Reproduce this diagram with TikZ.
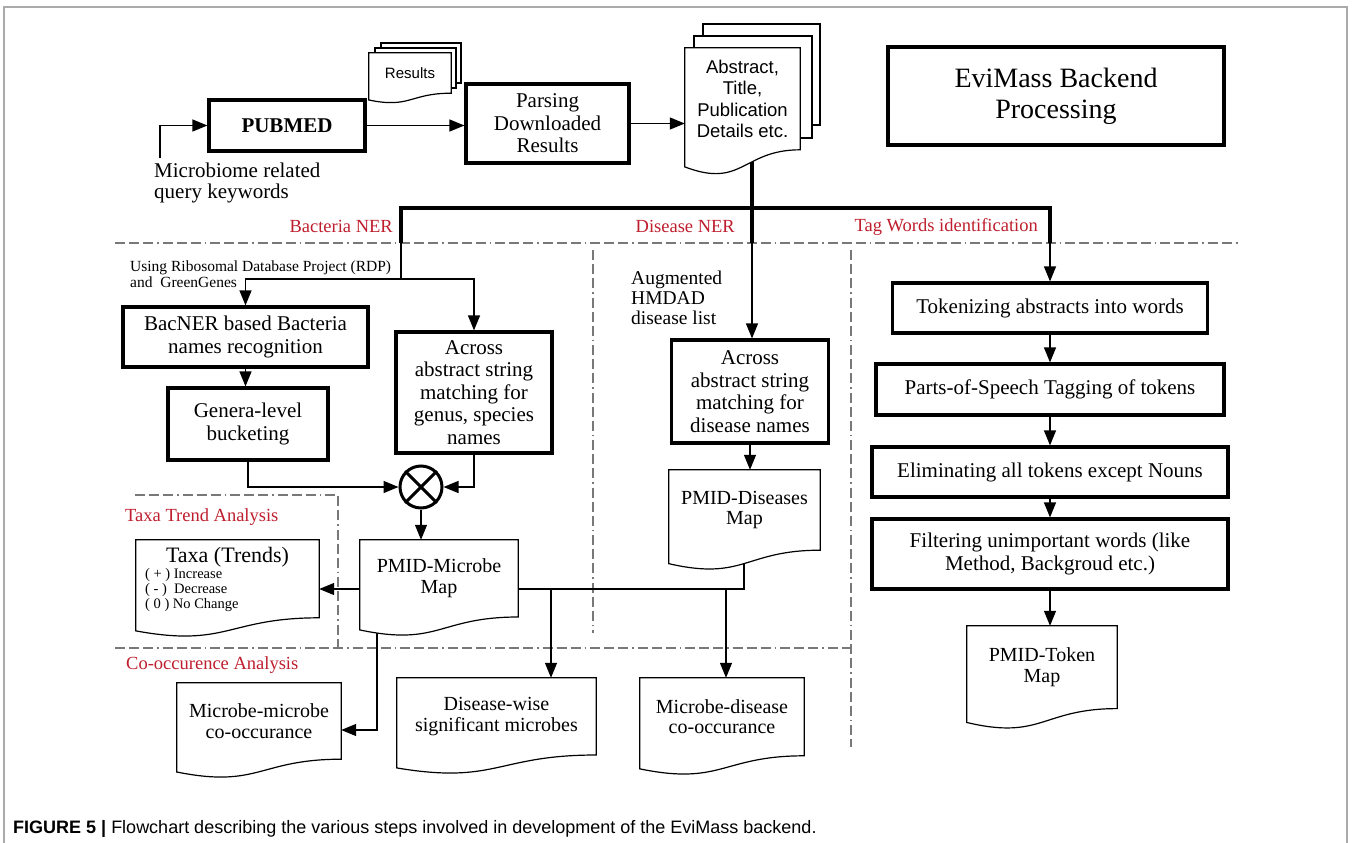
\documentclass[tikz,border=0pt]{standalone}
\usepackage{fontspec}
\setmainfont{Liberation Serif}
\setsansfont{Liberation Sans}
\usetikzlibrary{arrows.meta,calc}
\pgfdeclarelayer{connectors}
\pgfdeclarelayer{docs}
\pgfsetlayers{connectors,docs,main}
\definecolor{nerred}{RGB}{190,30,45}
\definecolor{sepgray}{RGB}{120,120,120}
\definecolor{framegray}{RGB}{170,170,170}
\newcommand{\fs}[2]{\fontsize{#1}{#2}\selectfont}
\newcommand{\docoutline}[1]{%
  \begin{pgfonlayer}{docs}
  \draw[docline] (#1.north west) -- (#1.north east) -- (#1.south east)
    .. controls (#1.south) and ($(#1.north)!1.384!(#1.south)$) ..
    ($(#1.north west)!1.1675!(#1.south west)$) -- cycle;
  \end{pgfonlayer}}
\tikzset{
  thickbox/.style={draw, line width=3.2pt, inner sep=0pt, align=center, font=\fs{21}{22.5}},
  docnode/.style={inner sep=0pt, align=center, font=\fs{20}{20.5}},
  docline/.style={line width=1.2pt, fill=white},
  conn/.style={line width=1.3pt},
  arr/.style={conn, -{Triangle[length=15pt,width=12pt]}},
  bus/.style={line width=4pt},
  sep/.style={sepgray, line width=1.3pt, dash pattern=on 10pt off 4pt on 10pt off 4pt on 10pt off 4pt on 1.5pt off 4pt},
  redlabel/.style={text=nerred, font=\fs{18.5}{20}, inner sep=0pt},
}
\begin{document}
\begin{tikzpicture}[x=1pt,y=-1pt]
\useasboundingbox (0,0) rectangle (1352,843);
% frame
\draw[framegray, line width=1.2pt] (4,843) -- (4,7) -- (1347,7) -- (1347,843);

% ---------- top row ----------
\node[thickbox, minimum width=156pt, minimum height=51pt, font=\bfseries\fs{21}{22.5}] (pubmed) at (287,125.5) {PUBMED};
\node[thickbox, minimum width=163pt, minimum height=79pt] (parse) at (547.5,123.5) {Parsing\\Downloaded\\Results};
\node[thickbox, minimum width=336pt, minimum height=98pt, font=\fs{28}{31}] (evimass) at (1056,96) {EviMass Backend\\Processing};

% Results stack
\begin{pgfonlayer}{docs}
\draw[docline] (381,43) rectangle (461,83);
\draw[docline] (375,48) rectangle (456,88);
\end{pgfonlayer}
\node[docnode, minimum width=82pt, minimum height=40pt, font=\sffamily\fs{15}{17}] (results) at (410,73) {Results};
\docoutline{results}

% Abstract stack
\begin{pgfonlayer}{docs}
\draw[docline] (703,24) rectangle (820,125);
\draw[docline] (694,36) rectangle (812,138);
\end{pgfonlayer}
\node[docnode, minimum width=115pt, minimum height=101.6pt, font=\sffamily\fs{18.5}{21.5}] (abs) at (742.5,98.8) {Abstract,\\Title,\\Publication\\Details etc.};
\docoutline{abs}

\node[align=left, anchor=west, inner sep=0pt, font=\fs{21}{21}] (query) at (154,183) {Microbiome related\\query keywords};
\coordinate (qin) at (160,158);

% ---------- labels ----------
\node[redlabel, anchor=east] (lbac) at (393,226) {Bacteria NER};
\node[redlabel, anchor=east] (ldis) at (735,226) {Disease NER};
\node[redlabel, anchor=east] (ltag) at (1038,227) {Tag Words identification};
\node[redlabel, anchor=west] (ltaxa) at (125,517) {Taxa Trend Analysis};
\node[redlabel, anchor=west] (lco) at (126,665) {Co-occurence Analysis};

% ---------- bacteria column ----------
\node[align=left, anchor=west, inner sep=0pt, font=\fs{15.5}{16}] (rdp) at (130,274) {Using Ribosomal Database Project (RDP)\\and\ \ GreenGenes};
\node[thickbox, minimum width=245pt, minimum height=60pt] (bacner) at (245.5,337) {BacNER based Bacteria\\names recognition};
\node[thickbox, minimum width=160pt, minimum height=72pt] (genera) at (248,424) {Genera-level\\bucketing};
\node[thickbox, minimum width=156pt, minimum height=121pt] (acrossg) at (474,392.5) {Across\\abstract string\\matching for\\genus, species\\names};
\node[circle, draw, line width=3pt, minimum size=42pt, inner sep=0pt] (mult) at (421,487) {};
\draw[line width=3pt] (mult.north west) -- (mult.south east);
\draw[line width=3pt] (mult.north east) -- (mult.south west);

\node[docnode, minimum width=158pt, minimum height=76.8pt] (pmidm) at (439,578.4) {PMID-Microbe\\Map};
\docoutline{pmidm}
\node[docnode, minimum width=183pt, minimum height=77.6pt] (taxa) at (227.5,578.8) {};
\docoutline{taxa}
\node[inner sep=0pt, font=\fs{22}{22}] (taxat) at (227.5,557) {Taxa (Trends)};
\node[align=left, anchor=west, inner sep=0pt, font=\fs{14.5}{15}] (taxal) at (145,590) {( + ) Increase\\( - )\ \ Decrease\\( 0 ) No Change};

% ---------- disease column ----------
\node[align=left, anchor=west, inner sep=0pt, font=\fs{19.5}{20}] (hmdad) at (631,298) {Augmented\\HMDAD\\disease list};
\node[thickbox, minimum width=157pt, minimum height=103pt] (acrossd) at (750,391.5) {Across\\abstract string\\matching for\\disease names};
\node[docnode, minimum width=151pt, minimum height=80pt] (pmidd) at (744.5,510) {PMID-Diseases\\Map};
\docoutline{pmidd}

% ---------- tag words column ----------
\node[thickbox, minimum width=315pt, minimum height=50pt] (tok) at (1050,308) {Tokenizing abstracts into words};
\node[thickbox, minimum width=348pt, minimum height=51pt] (pos) at (1050,389.5) {Parts-of-Speech Tagging of tokens};
\node[thickbox, minimum width=356pt, minimum height=50pt] (elim) at (1050,472) {Eliminating all tokens except Nouns};
\node[thickbox, minimum width=356pt, minimum height=70pt] (filt) at (1050,554) {Filtering unimportant words (like\\Method, Backgroud etc.)};
\node[docnode, minimum width=150pt, minimum height=82.4pt] (ptok) at (1042,667.2) {PMID-Token\\Map};
\docoutline{ptok}

% ---------- co-occurrence ----------
\node[docnode, minimum width=164pt, minimum height=76pt] (mm) at (259,721) {Microbe-microbe\\co-occurance};
\docoutline{mm}
\node[docnode, minimum width=199pt, minimum height=76.8pt] (dw) at (496.5,716.4) {Disease-wise\\significant microbes};
\docoutline{dw}
\node[docnode, minimum width=164pt, minimum height=77.6pt] (md) at (722,716.8) {Microbe-disease\\co-occurance};
\docoutline{md}

% caption
\node[anchor=west, inner sep=0pt, font=\sffamily\fs{18}{20}] (cap) at (13,829) {\textbf{FIGURE 5 |} Flowchart describing the various steps involved in development of the EviMass backend.};

% ---------- connectors ----------
\begin{pgfonlayer}{connectors}
% separators
\draw[sep] (115,243) -- (1238,243);
\draw[sep] (593,250) -- (593,633);
\draw[sep] (851,250) -- (851,747);
\draw[sep] (135,495) -- (338,495) -- (338,648);
\draw[sep] (115,648) -- (851,648);

\coordinate (absout) at (752,150);
\coordinate (busL) at (401,208);
\coordinate (busM) at (752,208);
\coordinate (busR) at (1050,208);
\coordinate (bacdrop) at (401,243);
\coordinate (disdrop) at (752,243);
\coordinate (tagdrop) at (1050,243);
\coordinate (bacsplit) at (401,279);
\coordinate (tx) at (0,589);
\coordinate (br1) at (551,589);
\coordinate (br2) at (726,589);
\coordinate (pdout) at (744,555);
\coordinate (mmout) at (377,600);
\coordinate (mmturn) at (377,730);

\draw[arr] (qin) |- (pubmed.west);
\draw[arr] (pubmed.east) -- (pubmed.east -| parse.west);
\draw[arr] (parse.east) -- (parse.east -| abs.west);
\draw[bus] (absout) -- (busM) -- (disdrop);
\draw[bus] (bacdrop) -- (busL) -- (busR) -- (tagdrop);

\draw[conn] (bacdrop) -- (bacsplit);
\draw[arr] (bacsplit) -| (bacner.north);
\draw[arr] (bacsplit) -| (acrossg.north);
\draw[arr] (bacner.south) -- (bacner.south |- genera.north);
\draw[arr] (genera.south) |- (mult.west);
\draw[arr] (acrossg.south) |- (mult.east);
\draw[arr] (mult.south) -- (mult.south |- pmidm.north);
\draw[arr] (pmidm.west |- tx) -- (taxa.east |- tx);

\draw[arr] (disdrop) -- (disdrop |- acrossd.north);
\draw[arr] (acrossd.south) -- (acrossd.south |- pmidd.north);
\draw[conn] (pmidm.east |- tx) -- (pdout |- tx) -- (pdout);
\draw[arr] (br1) -- (br1 |- dw.north);
\draw[arr] (br2) -- (br2 |- md.north);
\draw[arr] (mmout) -- (mmturn) -- (mmturn -| mm.east);

\draw[arr] (tagdrop) -- (tok.north);
\draw[arr] (tok.south) -- (pos.north);
\draw[arr] (pos.south) -- (elim.north);
\draw[arr] (elim.south) -- (filt.north);
\draw[arr] (filt.south) -- (filt.south |- ptok.north);
\end{pgfonlayer}
\end{tikzpicture}
\end{document}
